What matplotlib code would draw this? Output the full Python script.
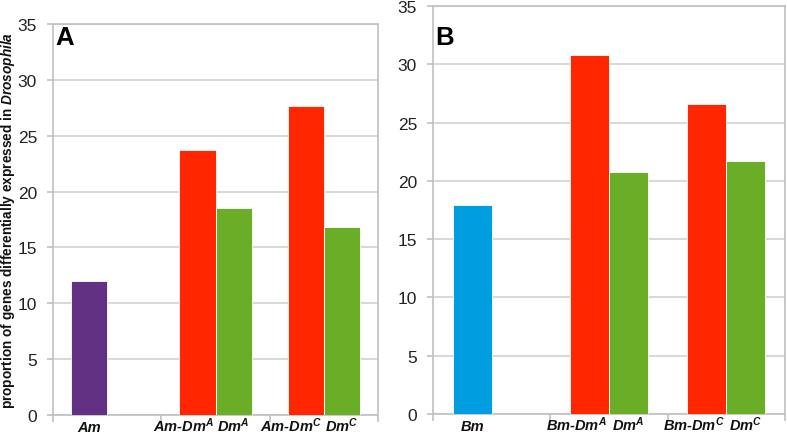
import numpy as np
import matplotlib
matplotlib.use("Agg")
import matplotlib.pyplot as plt

plt.rcParams["font.family"] = ["Liberation Sans", "DejaVu Sans"]
plt.rcParams["mathtext.fontset"] = "custom"
plt.rcParams["mathtext.it"] = "Liberation Sans:italic:bold"
plt.rcParams["mathtext.rm"] = "Liberation Sans:bold"
plt.rcParams["mathtext.bf"] = "Liberation Sans:bold"

# panel A
labels_a = ["Am", "Am-Dm$^{A}$", "Dm$^{A}$", "Am-Dm$^{C}$", "Dm$^{C}$"]
first_a = [12.0, 23.7, 27.7]      # Am, Am-DmA, Am-DmC
second_a = [np.nan, 18.5, 16.8]   # -, DmA, DmC

# panel B
labels_b = ["Bm", "Bm-Dm$^{A}$", "Dm$^{A}$", "Bm-Dm$^{C}$", "Dm$^{C}$"]
first_b = [17.9, 30.8, 26.6]
second_b = [np.nan, 20.8, 21.7]

yticks = [0, 5, 10, 15, 20, 25, 30, 35]

RED = "#ff2600"
GREEN = "#6aad26"
GRID = "#d9d9d9"
SPINE = "#c0c0c0"

W, H = 787, 435
fig = plt.figure(figsize=(W / 100, H / 100), dpi=100)


def make_panel(rect, first, second, labels, first_colors, letter, letter_xy):
    l, t, r, b = rect
    ax = fig.add_axes([l / W, 1 - b / H, (r - l) / W, (b - t) / H])
    x = np.arange(3) + 0.5
    ax.bar(x - 1 / 6, first, width=1 / 3, color=first_colors,
           edgecolor="white", linewidth=0.6, zorder=3)
    ax.bar(x + 1 / 6, second, width=1 / 3, color=GREEN,
           edgecolor="white", linewidth=0.6, zorder=3)
    ax.set_xlim(0, 3)
    ax.set_ylim(0, 35)
    ax.set_yticks(yticks)
    ax.set_yticklabels([str(v) for v in yticks], fontsize=12.5, color="#222222")
    ax.yaxis.grid(True, color=GRID, linewidth=1.5, zorder=0)
    ax.set_axisbelow(True)
    ax.set_xticks([0, 1, 2, 3])
    ax.set_xticklabels([])
    ax.tick_params(axis="y", length=4, width=1.2, color=SPINE, pad=7.5)
    ax.tick_params(axis="x", length=5, width=1.2, color=SPINE)
    for s in ax.spines.values():
        s.set_color(SPINE)
        s.set_linewidth(1.2)

    # category labels below the bars (baseline ~16 px under the axis)
    ybase = -16 / (b - t)
    tr = ax.get_xaxis_transform()
    kw = dict(transform=tr, va="baseline", fontsize=10.5, fontweight="bold",
              style="italic", color="#111111")
    ax.text(0.5 - 1 / 6, ybase, labels[0], ha="center", **kw)
    for g in (1, 2):
        ax.text(g + 0.5 - 0.015, ybase, labels[2 * g - 1], ha="right", **kw)
        ax.text(g + 0.5 + 1 / 6, ybase, labels[2 * g], ha="center", **kw)

    fig.text(letter_xy[0] / W, 1 - letter_xy[1] / H, letter, fontsize=18.5,
             fontweight="bold", ha="left", va="top")
    return ax


make_panel((53, 25, 378, 416), first_a, second_a, labels_a,
           ["#623183", RED, RED], "A", (55, 26))
make_panel((433, 7, 785, 415), first_b, second_b, labels_b,
           ["#009ee0", RED, RED], "B", (435, 26))

fig.text(8.5 / W, 1 - 220 / H,
         "proportion of genes differentially expressed in $Drosophila$",
         rotation=90, ha="center", va="center", fontsize=9.8,
         fontweight="bold", color="#111111")

fig.savefig("out.png", dpi=100)
